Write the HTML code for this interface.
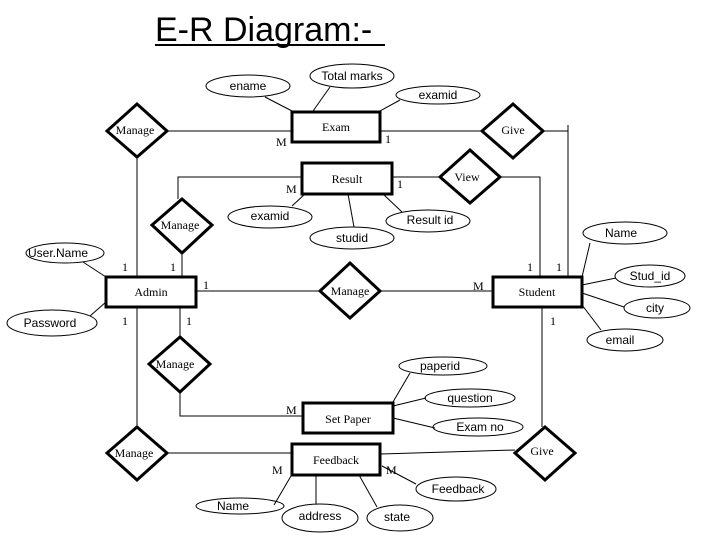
<!DOCTYPE html>
<html><head><meta charset="utf-8"><style>
html,body{margin:0;padding:0;background:#fff;}
svg{display:block;}
.s{font-family:"Liberation Sans",sans-serif;font-size:12px;}
.r{font-family:"Liberation Serif",serif;font-size:12px;}
</style></head><body>
<svg width="720" height="540" viewBox="0 0 720 540" xmlns="http://www.w3.org/2000/svg">
<rect width="720" height="540" fill="#fff"/>
<text x="155" y="41" font-family="Liberation Sans,sans-serif" font-size="34">E-R Diagram:-</text>
<line x1="155" y1="45" x2="385" y2="45" stroke="#000" stroke-width="2"/>
<g stroke="#000" stroke-width="1" fill="none">
<!-- connectors -->
<line x1="167" y1="131" x2="292" y2="131"/>
<line x1="380" y1="131" x2="482" y2="131"/>
<polyline points="543,131 568,131 568,277"/>
<line x1="568" y1="125" x2="568" y2="133"/>
<line x1="392" y1="177" x2="440" y2="177"/>
<polyline points="500,177 540,177 540,277"/>
<polyline points="302,177 178,177 178,199"/>
<line x1="137" y1="157" x2="137" y2="427"/>
<line x1="182" y1="253" x2="182" y2="277"/>
<line x1="196" y1="291" x2="320" y2="291"/>
<line x1="380" y1="291" x2="493" y2="291"/>
<line x1="180" y1="307" x2="180" y2="337"/>
<polyline points="180,392 180,416 303,416"/>
<line x1="167" y1="453" x2="292" y2="453"/>
<line x1="380" y1="454" x2="515" y2="450"/>
<line x1="542" y1="307" x2="542" y2="427"/>
<!-- attribute links -->
<line x1="265" y1="97" x2="292" y2="111"/>
<line x1="330" y1="87" x2="313" y2="111"/>
<line x1="380" y1="111" x2="400" y2="100"/>
<line x1="292" y1="206" x2="305" y2="194"/>
<line x1="348" y1="194" x2="354" y2="227"/>
<line x1="383" y1="194" x2="402" y2="212"/>
<line x1="83" y1="262" x2="106" y2="277"/>
<line x1="90" y1="316" x2="106" y2="302"/>
<line x1="582" y1="277" x2="590" y2="243"/>
<line x1="582" y1="285" x2="616" y2="278"/>
<line x1="582" y1="293" x2="624" y2="307"/>
<line x1="582" y1="305" x2="601" y2="330"/>
<line x1="393" y1="402" x2="410" y2="373"/>
<line x1="393" y1="406" x2="426" y2="398"/>
<line x1="393" y1="418" x2="435" y2="428"/>
<line x1="382" y1="466" x2="416" y2="484"/>
<line x1="291" y1="476" x2="274" y2="505"/>
<line x1="316" y1="470" x2="316" y2="504"/>
<line x1="359" y1="475" x2="377" y2="507"/>
<!-- ellipses -->
<ellipse cx="248" cy="86" rx="42" ry="11"/>
<ellipse cx="352" cy="76" rx="42" ry="12"/>
<ellipse cx="438" cy="95" rx="42" ry="9"/>
<ellipse cx="270" cy="217" rx="42" ry="11"/>
<ellipse cx="352" cy="238" rx="42" ry="11"/>
<ellipse cx="428" cy="221" rx="42" ry="11"/>
<ellipse cx="65" cy="253" rx="39" ry="10"/>
<ellipse cx="52" cy="323" rx="45" ry="13"/>
<ellipse cx="625" cy="233" rx="42" ry="11"/>
<ellipse cx="650" cy="276" rx="35" ry="11"/>
<ellipse cx="657" cy="308" rx="33" ry="10"/>
<ellipse cx="625" cy="340" rx="38" ry="11"/>
<ellipse cx="443" cy="366" rx="44" ry="9"/>
<ellipse cx="470" cy="398" rx="45" ry="9"/>
<ellipse cx="478" cy="427" rx="45" ry="9"/>
<ellipse cx="456" cy="489" rx="40" ry="12"/>
<ellipse cx="240" cy="506" rx="44" ry="8"/>
<ellipse cx="320" cy="518" rx="38" ry="14"/>
<ellipse cx="400" cy="518" rx="33" ry="13"/>
</g>
<g stroke="#000" stroke-width="3" fill="#fff">
<rect x="292" y="112" width="88" height="30"/>
<rect x="302" y="163" width="90" height="31"/>
<rect x="106" y="277" width="90" height="30"/>
<rect x="493" y="277" width="89" height="30"/>
<rect x="303" y="403" width="90" height="30"/>
<rect x="292" y="444" width="88" height="31"/>
<polygon points="137,104 167,131 137,157 107,131"/>
<polygon points="513,104 543,131 513,158 482,131"/>
<polygon points="470,150 500,177 470,203 440,177"/>
<polygon points="182,199 212,225 182,253 152,225"/>
<polygon points="350,263 380,291 350,318 320,291"/>
<polygon points="180,337 210,364 180,392 149,364"/>
<polygon points="137,427 167,453 137,480 107,453"/>
<polygon points="545,427 575,453 545,480 515,453"/>
</g>
<g class="r" text-anchor="middle">
<text x="336" y="131">Exam</text>
<text x="347" y="183">Result</text>
<text x="151" y="296">Admin</text>
<text x="537" y="296">Student</text>
<text x="348" y="423">Set Paper</text>
<text x="336" y="464">Feedback</text>
<text x="135" y="134">Manage</text>
<text x="513" y="134">Give</text>
<text x="467" y="181">View</text>
<text x="180" y="229">Manage</text>
<text x="350" y="295">Manage</text>
<text x="175" y="368">Manage</text>
<text x="134" y="457">Manage</text>
<text x="542" y="455">Give</text>
</g>
<g class="r">
<text x="276" y="146">M</text>
<text x="385" y="143">1</text>
<text x="286" y="193">M</text>
<text x="397" y="188">1</text>
<text x="122" y="271">1</text>
<text x="170" y="271">1</text>
<text x="203" y="289">1</text>
<text x="473" y="290">M</text>
<text x="527" y="271">1</text>
<text x="556" y="271">1</text>
<text x="122" y="325">1</text>
<text x="186" y="325">1</text>
<text x="550" y="325">1</text>
<text x="286" y="414">M</text>
<text x="272" y="474">M</text>
<text x="386" y="474">M</text>
</g>
<g class="s" text-anchor="middle">
<text x="248" y="90">ename</text>
<text x="352" y="80">Total marks</text>
<text x="438" y="99">examid</text>
<text x="270" y="220">examid</text>
<text x="352" y="242">studid</text>
<text x="430" y="224">Result id</text>
<text x="58" y="257">User.Name</text>
<text x="50" y="327">Password</text>
<text x="621" y="237">Name</text>
<text x="650" y="280">Stud_id</text>
<text x="655" y="312">city</text>
<text x="620" y="344">email</text>
<text x="440" y="370">paperid</text>
<text x="470" y="402">question</text>
<text x="480" y="431">Exam no</text>
<text x="458" y="493">Feedback</text>
<text x="233" y="510">Name</text>
<text x="320" y="520">address</text>
<text x="397" y="521">state</text>
</g>
</svg>
</body></html>
